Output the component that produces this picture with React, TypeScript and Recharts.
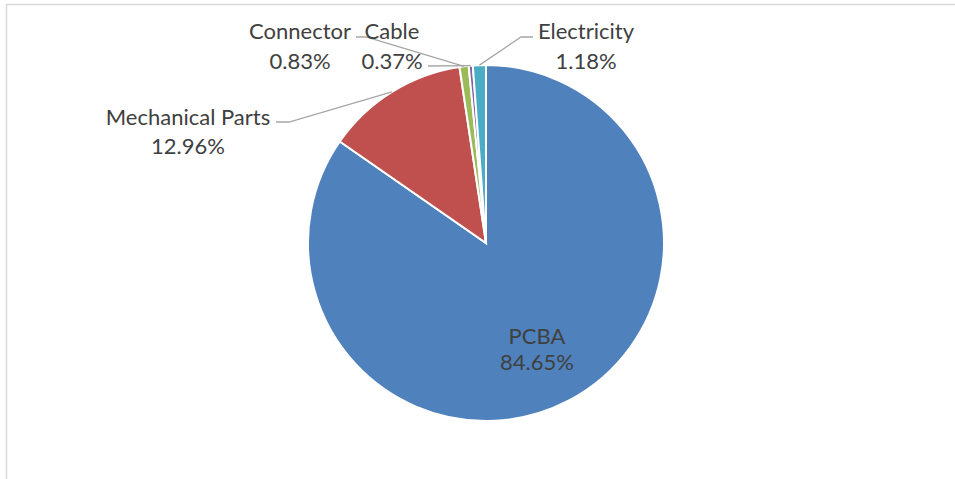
import React from 'react';
import { PieChart, Pie, Cell } from 'recharts';

const categories = ['PCBA', 'Mechanical Parts', 'Connector', 'Cable', 'Electricity'];
const shares = [84.65, 12.96, 0.83, 0.37, 1.18];
const colors = ['#4F81BD', '#C0504D', '#9BBB59', '#8064A2', '#4BACC6'];

const data = categories.map((name, i) => ({ name, value: shares[i] }));

// label text anchors (centre x, first line y, second line y) and leader-line start points
const labelLayout = [
  { x: 537, y1: 335, y2: 361, line: null as number[][] | null },
  { x: 188, y1: 116, y2: 145, line: [[276, 122], [289, 122]] },
  { x: 300, y1: 30, y2: 60, line: [[356, 37], [366, 37]] },
  { x: 392, y1: 30, y2: 60, line: [[428, 66]] },
  { x: 586, y1: 30, y2: 60, line: [[533, 37], [521, 37]] },
];

const RAD = Math.PI / 180;
const FONT = 'Lato';
const FS = 22;

const renderLabel = (props: any) => {
  const { cx, cy, midAngle, outerRadius, index, name, value } = props;
  const l = labelLayout[index];
  const ex = cx + outerRadius * Math.cos(-midAngle * RAD);
  const ey = cy + outerRadius * Math.sin(-midAngle * RAD);
  const pts = l.line ? [...l.line, [ex, ey]] : null;
  return (
    <g>
      {pts && (
        <polyline
          points={pts.map((p) => p.join(',')).join(' ')}
          fill="none"
          stroke="#A6A6A6"
          strokeWidth={1.3}
        />
      )}
      <text x={l.x} y={l.y1} textAnchor="middle" dominantBaseline="central" fill="#404040" fontSize={FS} fontFamily={FONT}>
        {name}
      </text>
      <text x={l.x} y={l.y2} textAnchor="middle" dominantBaseline="central" fill="#404040" fontSize={FS} fontFamily={FONT}>
        {value.toFixed(2)}%
      </text>
    </g>
  );
};

export default function App() {
  return (
    <div style={{ position: 'absolute', left: 0, top: 0, width: 955, height: 479, background: '#fff' }}>
      <PieChart width={955} height={479} margin={{ top: 0, right: 0, bottom: 0, left: 0 }}>
        <rect x={6.5} y={4.5} width={1000} height={500} fill="none" stroke="#D9D9D9" strokeWidth={1.5} />
        <Pie
          data={data}
          dataKey="value"
          nameKey="name"
          cx={486}
          cy={243}
          outerRadius={178}
          startAngle={90}
          endAngle={-270}
          stroke="#FFFFFF"
          strokeWidth={2}
          isAnimationActive={false}
          labelLine={false}
          label={renderLabel}
        >
          {data.map((d, i) => (
            <Cell key={d.name} fill={colors[i]} />
          ))}
        </Pie>
      </PieChart>
    </div>
  );
}
